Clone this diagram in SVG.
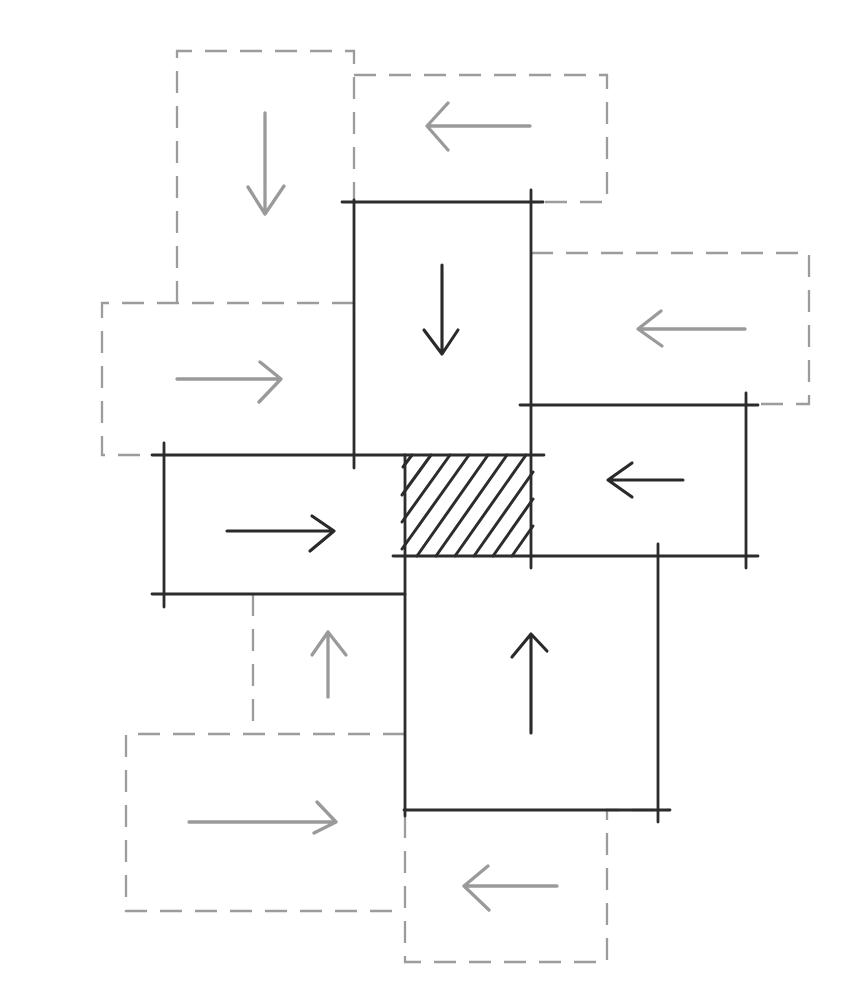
<svg xmlns="http://www.w3.org/2000/svg" width="857" height="1000" viewBox="0 0 857 1000">
<style>
.dash{fill:none;stroke:#9c9c9c;stroke-width:2.3;stroke-dasharray:22 13;stroke-linecap:butt}
.solid{fill:none;stroke:#2c2c2c;stroke-width:2.8;stroke-linecap:round}
.garrow{fill:none;stroke:#9a9a9a;stroke-width:3.3;stroke-linecap:round;stroke-linejoin:round}
.sarrow{fill:none;stroke:#2a2a2a;stroke-width:3.1;stroke-linecap:round;stroke-linejoin:round}
.hatch{stroke:#2c2c2c;stroke-width:3;stroke-linecap:round}
</style>
<rect width="857" height="1000" fill="#ffffff"/>

<g id="ghost-top-left">
<path class="dash" d="M177 303V51H354V202"/>
<path class="garrow" d="M265 113V214M248 187L265 214L284 186"/>
</g>
<g id="ghost-top-right">
<path class="dash" d="M354 75H607V202H543"/>
<path class="garrow" d="M530 126H427M448 103L427 126L448 150"/>
</g>
<g id="ghost-right">
<path class="dash" d="M531 253H809V404H758"/>
<path class="garrow" d="M745 329H638M661 311L638 329L662 346"/>
</g>
<g id="ghost-left">
<path class="dash" d="M354 303H102V455H152"/>
<path class="garrow" d="M177 379H281M260 362L281 379L259 402"/>
</g>
<g id="ghost-bottom-small">
<path class="dash" d="M253 594V733"/>
<path class="garrow" d="M328 697V632M312 655L328 632L346 655"/>
</g>
<g id="ghost-bottom-left">
<path class="dash" d="M405 734H126V911H405"/>
<path class="garrow" d="M189 822H336M317 802L336 822L314 833"/>
</g>
<g id="ghost-bottom-right">
<path class="dash" d="M405 816V962H607V810H670"/>
<path class="garrow" d="M557 886H464M488 866L464 886L489 910"/>
</g>

<g id="hatched-square">
<line class="hatch" x1="412" y1="455" x2="403" y2="467"/>
<line class="hatch" x1="431" y1="455" x2="402" y2="495"/>
<line class="hatch" x1="450" y1="455" x2="402" y2="522"/>
<line class="hatch" x1="469" y1="455" x2="402" y2="549"/>
<line class="hatch" x1="488" y1="455" x2="417" y2="556"/>
<line class="hatch" x1="507" y1="455" x2="436" y2="556"/>
<line class="hatch" x1="526" y1="455" x2="455" y2="556"/>
<line class="hatch" x1="533" y1="472" x2="474" y2="556"/>
<line class="hatch" x1="533" y1="499" x2="493" y2="556"/>
<line class="hatch" x1="533" y1="526" x2="512" y2="556"/>
</g>

<g id="tile-top">
<line class="solid" x1="342" y1="202" x2="543" y2="202"/>
<line class="solid" x1="354" y1="200" x2="354" y2="468"/>
<line class="solid" x1="531" y1="190" x2="531" y2="568"/>
<path class="sarrow" d="M442 265V354M424 330L442 354L458 330"/>
</g>
<g id="tile-left">
<line class="solid" x1="152" y1="455" x2="544" y2="455"/>
<line class="solid" x1="164" y1="443" x2="164" y2="607"/>
<line class="solid" x1="152" y1="594" x2="405" y2="594"/>
<path class="sarrow" d="M227 531H334M312 516L334 531L310 551"/>
</g>
<g id="tile-right">
<line class="solid" x1="520" y1="405" x2="758" y2="405"/>
<line class="solid" x1="746" y1="393" x2="746" y2="568"/>
<line class="solid" x1="393" y1="556" x2="758" y2="556"/>
<path class="sarrow" d="M683 480H608M632 463L608 480L632 497"/>
</g>
<g id="tile-bottom">
<line class="solid" x1="405" y1="455" x2="405" y2="816"/>
<line class="solid" x1="658" y1="544" x2="658" y2="822"/>
<line class="solid" x1="404" y1="810" x2="670" y2="810"/>
<path class="sarrow" d="M531 733V634M512 657L531 634L547 651"/>
</g>
<g id="connectors"></g>
</svg>
